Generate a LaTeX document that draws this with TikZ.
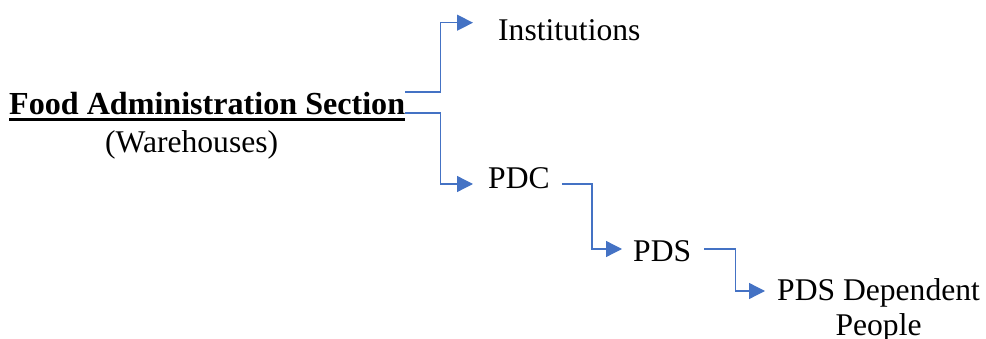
\documentclass[tikz,border=0pt]{standalone}
\usepackage{fontspec}
\setmainfont{Liberation Serif}
\usepackage{xcolor}
\usetikzlibrary{arrows.meta}

\definecolor{wordblue}{HTML}{4472C4}

\tikzset{
    lbl/.style={inner sep=0pt, anchor=base west, font=\fontsize{31.6}{35}\selectfont},
    link/.style={draw=wordblue, line width=1.3pt, -{Triangle[length=16pt,width=16pt]}}
}

\begin{document}
\begin{tikzpicture}[x=1pt,y=-1pt]
    \useasboundingbox (0,0) rectangle (986,339);

    \node[lbl] (fas) at (9,115) {\fontsize{32.1}{35}\selectfont\textbf{Food Administration Section}};
    \draw[line width=3.2pt] ([yshift=-4.5pt]fas.base west) -- ([yshift=-4.5pt]fas.base east);
    \node[lbl] (ware) at (105,153) {(Warehouses)};

    \node[lbl] (inst) at (498,40.7) {Institutions};
    \node[lbl] (pdc) at (488,189) {PDC};
    \node[lbl] (pds) at (633,262) {PDS};
    \node[lbl, align=center] (dep) at (777,335) {PDS Dependent\\People};

    \draw[link] ([yshift=23pt]fas.base east) -- ++(35,0) |- ([xshift=-25pt,yshift=18pt]inst.base west);
    \draw[link] ([yshift=2pt]fas.base east) -- ++(35,0) |- ([xshift=-15pt,yshift=5pt]pdc.base west);
    \draw[link] ([xshift=12pt,yshift=5pt]pdc.base east) -- ++(30,0) |- ([xshift=-11pt,yshift=13pt]pds.base west);
    \draw[link] ([xshift=13pt,yshift=13pt]pds.base east) -- ++(31,0) |- ([xshift=-12pt,yshift=44pt]dep.base west);
\end{tikzpicture}
\end{document}
